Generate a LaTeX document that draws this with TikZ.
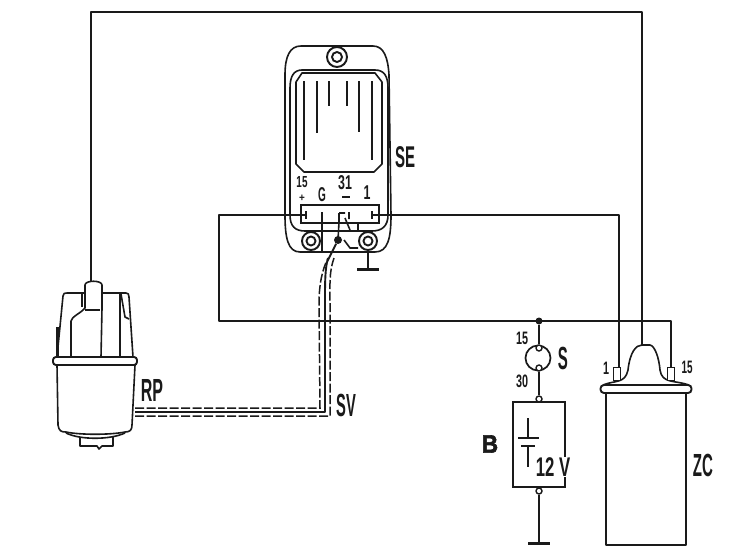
\documentclass[tikz,border=0pt]{standalone}
\usepackage{fontspec}
\setmainfont{Liberation Sans}
\newfontfamily\heavyfont[FakeBold=2.5]{Liberation Sans Bold}
\usetikzlibrary{calc}
\definecolor{ink}{HTML}{1A1A1A}
\newcommand{\cond}[3]{\scalebox{#2}[1]{\fontsize{#1}{#1}\selectfont\bfseries #3}}
\tikzset{
  wire/.style={draw=ink,line width=1.9pt,line join=round},
  thin part/.style={draw=ink,line width=1.6pt,line join=round},
  heavy/.style={draw=ink,line width=3pt},
  shield/.style={draw=ink,line width=1.5pt,dash pattern=on 9pt off 2.5pt},
  lbl/.style={text=ink,inner sep=0pt,outer sep=0pt},
  lug/.style={circle,draw=ink,line width=1.9pt,fill=white,inner sep=0pt},
  pin/.style={circle,draw=ink,line width=1.4pt,fill=white,inner sep=0pt,minimum size=6pt},
  dotn/.style={circle,fill=ink,inner sep=0pt}
}
\begin{document}
\begin{tikzpicture}[x=1pt,y=-1pt]
\useasboundingbox (0,0) rectangle (733,557);
\fill[white] (0,0) rectangle (733,557);

% ---------- named points
\coordinate (rpTop) at (91,281);
\coordinate (cornerTL) at (91,12);
\coordinate (cornerTR) at (642,12);
\coordinate (domeTop) at (642,345);
\coordinate (loopL) at (219,215);
\coordinate (loopLB) at (219,321);
\coordinate (term15) at (307,215);
\coordinate (term1) at (371,215);
\coordinate (cornerR1) at (619,215);
\coordinate (pin1) at (619,367);
\coordinate (cornerR2) at (671,321);
\coordinate (pin15) at (671,367);
\coordinate (gnd1) at (368,269);
\coordinate (gnd2) at (539,543);
\coordinate (seDot) at (338,240);
\coordinate (cableEnd) at (135,412);
\coordinate (cableCorner) at (325,412);

% ---------- SE electronic unit
\draw[thin part] (301,46) -- (373,46) .. controls (384,46) and (388,58) .. (389,75)
  -- (391,215) .. controls (391,238) and (388,252) .. (375,252) -- (300,252)
  .. controls (288,252) and (285,238) .. (285,215) -- (285,75)
  .. controls (285,56) and (290,46) .. (301,46) -- cycle;
\draw[thin part] (302,70) -- (375,70) .. controls (384,70) and (388,76) .. (388,88)
  -- (388,215) .. controls (388,226) and (382,231) .. (372,231) -- (305,231)
  .. controls (295,231) and (290,226) .. (290,215) -- (290,88)
  .. controls (290,76) and (294,70) .. (302,70) -- cycle;
\draw[thin part] (302,73) -- (375,73) -- (382,82) -- (382,164) -- (374,172)
  -- (304,172) -- (296,164) -- (296,82) -- cycle;
\foreach \x/\yb in {304/160,317/133,329/106,347/106,359/132,372/160}
  \draw[thin part] (\x,81) -- (\x,\yb);
\node[lug,minimum size=20pt] (lugTop) at (337,57) {};
\node[lug,minimum size=10pt] at (337,57) {};
\node[lug,minimum size=18pt] (lugL) at (311,241) {};
\node[lug,minimum size=9pt] at (311,241) {};
\node[lug,minimum size=18pt] (lugR) at (368,241) {};
\node[lug,minimum size=9pt] at (368,241) {};
\node[draw=ink,line width=1.7pt,minimum width=78pt,minimum height=18pt,inner sep=0pt,fill=white] (termbox) at (340,214) {};
\draw[thin part] (322,212) -- (322,252);
\draw[thin part] (339,222) -- (338,240);
\draw[thin part] (339,213) -- (339,222) (339,213) -- (345,213) (349,212) -- (349,219)
  (345,218) -- (350,230) (344,240) -- (350,248) -- (358,248) (358,231) -- (358,222);
\node[dotn,minimum size=8pt] (seD) at (seDot) {};
\draw[thin part] (term15) ++(-1,-4) -- ++(0,8);
\draw[thin part] (term1) ++(1,-4) -- ++(0,8);

\node[lbl] (t15) at (302,182) {\cond{16}{.62}{15}};
\node[lbl] (tplus) at (302,198) {\cond{11}{.9}{+}};
\node[lbl] (tG) at (322,195) {\cond{20}{.5}{G}};
\node[lbl] (t31) at (345,183) {\cond{20}{.62}{31}};
\draw[thin part] (342,197) -- (350,197);
\node[lbl] (t1) at (367,193) {\cond{20}{.62}{1}};
\node[lbl] (lSE) at (405,157) {\cond{30}{.5}{SE}};

% ---------- ground of SE
\draw[wire] (lugR.south) -- (gnd1);
\draw[heavy] ($(gnd1)+(-11,0)$) -- ($(gnd1)+(11,0)$);

% ---------- distributor RP
\draw[thin part,fill=white] (57,357) -- (63,296) .. controls (63,293) and (65,293) .. (67,293)
  -- (126,293) .. controls (128,293) and (129,294) .. (129,297) -- (133,357);
\draw[thin part] (121,294) -- (125,317) -- (129,319);
\draw[thin part] (120,294) -- (120,357);
\draw[thin part] (100,294) -- (101,357);
\draw[thin part] (82,294) -- (82,307);
\draw[thin part,fill=white] (71,357) -- (71,321) .. controls (72,316) and (80,314) .. (85,308)
  -- (85,285) .. controls (85,280) and (102,280) .. (102,285) -- (102,308) -- (101,357);
\draw[thin part] (85,310) -- (100,310);
\draw[heavy] (57,327) -- (57,356);
\draw[thin part] (57,365) -- (58,425) .. controls (59,431) and (61,432) .. (66,432)
  .. controls (80,435) and (110,435) .. (125,432) .. controls (130,432) and (132,430) .. (132,425) -- (135,365);
\draw[thin part] (66,433) .. controls (80,440) and (110,440) .. (125,433);
\draw[thin part] (80,437) -- (80,446) -- (97,446) -- (99,449) -- (102,446) -- (113,446) -- (113,437);
\node[draw=ink,line width=1.9pt,rounded corners=3pt,fill=white,minimum width=84pt,minimum height=8pt,inner sep=0pt] (rpFlange) at (95,361) {};
\node[lbl] (lRP) at (152,390) {\cond{32}{.5}{RP}};

% ---------- shielded cable SV
\draw[shield] (135,408) -- (320,408) -- (319,304) .. controls (319,285) and (322,270) .. (328,258);
\draw[shield] (135,416) -- (330,416) -- (330,304) .. controls (330,285) and (329,272) .. (334,258);
\draw[wire] (seD) -- (327,262) .. controls (325,272) and (325,285) .. (325,300) -- (cableCorner) -- (cableEnd);
\node[lbl] (lSV) at (346,405) {\cond{32}{.46}{SV}};

% ---------- wires
\draw[wire] (rpTop) -- (cornerTL) -- (cornerTR) -- (domeTop);
\draw[wire] (term15) -- (loopL) -- (loopLB) -- (cornerR2) -- (pin15);
\draw[wire] (term1) -- (cornerR1) -- (pin1);

% ---------- switch S
\node[circle,draw=ink,line width=1.7pt,minimum size=25pt,inner sep=0pt] (swS) at (538,358) {};
\node[dotn,minimum size=7pt] (junc) at (539,321) {};
\node[pin,minimum size=6pt] (swA) at (539,348) {};
\node[pin,minimum size=6pt] (swB) at (539,368) {};
\draw[wire] (junc) -- (swA);
\node[lbl] (l15a) at (522,338) {\cond{18}{.6}{15}};
\node[lbl] (l30) at (522,381) {\cond{18}{.6}{30}};
\node[lbl] (lS) at (563,358) {\cond{32}{.47}{S}};

% ---------- battery B
\node[draw=ink,line width=1.7pt,minimum width=52pt,minimum height=85pt,inner sep=0pt] (batt) at (539,444.5) {};
\node[pin] (battT) at (539,399) {};
\node[pin] (battB) at (539,491) {};
\draw[wire] (swB) -- (battT);
\draw[wire] (battB) -- (gnd2);
\draw[heavy] ($(gnd2)+(-11,0)$) -- ($(gnd2)+(11,0)$);
\draw[thin part] (528,418) -- (528,438);
\draw[thin part] (518,438) -- (539,438);
\draw[draw=ink,line width=2.6pt] (521,446) -- (535,446);
\draw[thin part] (528,446) -- (528,467);
\node[fill=white,inner sep=1pt,text=ink] (l12) at (553,467) {\cond{27}{.62}{12 V}};
\node[lbl] (lB) at (490,444) {\scalebox{.9}[1]{\fontsize{25}{25}\selectfont\heavyfont B}};

% ---------- coil ZC
\draw[thin part] (603,385) .. controls (615,380) and (625,384) .. (628,370)
  .. controls (630,352) and (636,345) .. (642,345) -- (650,345)
  .. controls (655,346) and (659,358) .. (660,370) .. controls (662,384) and (675,380) .. (689,385);
\draw[thin part] (606,393) -- (606,545) -- (686,545) -- (686,393);
\node[draw=ink,line width=1.9pt,rounded corners=3.5pt,fill=white,minimum width=91pt,minimum height=8pt,inner sep=0pt] (flange) at (646,389) {};
\node[draw=ink,line width=1.6pt,fill=white,minimum width=7pt,minimum height=13pt,inner sep=0pt] (p1) at (617,374) {};
\node[draw=ink,line width=1.6pt,fill=white,minimum width=7pt,minimum height=13pt,inner sep=0pt] (p15) at (671,374) {};
\node[lbl] (l1) at (606,368) {\cond{18}{.6}{1}};
\node[lbl] (l15b) at (687,367) {\cond{18}{.55}{15}};
\node[lbl] (lZC) at (703,465) {\cond{32}{.47}{ZC}};
\end{tikzpicture}
\end{document}
